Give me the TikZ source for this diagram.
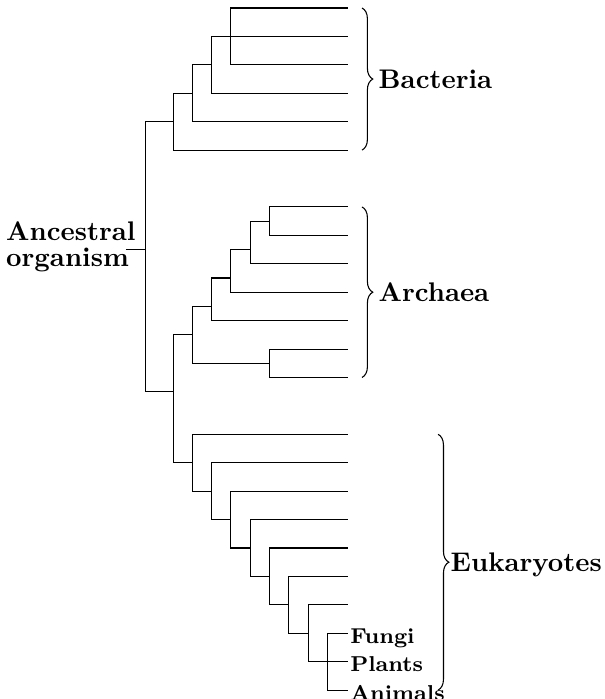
\documentclass[tikz,border=0pt]{standalone}
\usetikzlibrary{decorations.pathreplacing}

\begin{document}
\begin{tikzpicture}[x=0.252cm, y=-0.371cm,
  taxon/.style={anchor=west, inner sep=0.6pt, font=\footnotesize\bfseries, text height=7.4pt, text depth=0pt},
  group/.style={anchor=west, inner sep=1pt, font=\bfseries, text depth=0pt},
  clade/.style={decorate, decoration={brace, amplitude=4pt}}]
\useasboundingbox (-7.964,-0.2815) rectangle (23.331,24.314);
\def\xend{10.07}

% root of the tree
\coordinate (root) at (-0.45,8.5);
\coordinate (stub) at (-1.44,8.5);
\node[anchor=east, align=left, font=\bfseries, inner sep=0pt] (anc) at (-0.92,8.4) {Ancestral\\[-2.6pt]organism};
\draw (stub) -- (root);

% Bacteria
\begin{scope}
\coordinate (b1) at (1,4);
\coordinate (b2) at (2,3);
\coordinate (b3) at (3,2);
\coordinate (b4) at (4,1);
\foreach \i in {1,...,6} \coordinate (bac\i) at (\xend,\i-1);
\draw (b4) |- (bac1) (b4) -- (bac2) (b4) |- (bac3);
\draw (b3) |- (b4) (b3) |- (bac4);
\draw (b2) |- (b3) (b2) |- (bac5);
\draw (b1) |- (b2) (b1) |- (bac6);
\coordinate (btop) at (10.79,0);
\coordinate (bbot) at (10.79,5);
\draw[clade] (btop) -- (bbot) node[midway, group, right=5pt] (bact) {Bacteria};
\end{scope}

% Archaea
\begin{scope}[shift={(0,7)}]
\coordinate (a0) at (1,6.5);
\coordinate (a1) at (2,4.5);
\coordinate (a2) at (3,3.5);
\coordinate (a3) at (4,2.5);
\coordinate (a4) at (5,1.5);
\coordinate (a5) at (6,0.5);
\coordinate (a6) at (6,5.5);
\foreach \i in {1,...,7} \coordinate (arc\i) at (\xend,\i-1);
\draw (a5) |- (arc1) (a5) |- (arc2);
\draw (a4) |- (a5) (a4) |- (arc3);
\draw (a3) |- (a4) (a3) |- (arc4);
\draw (a2) |- (a3) (a2) |- (arc5);
\draw (a6) |- (arc6) (a6) |- (arc7);
\draw (a1) |- (a2) (a1) |- (a6);
\draw (a0) |- (a1);
\coordinate (atop) at (10.79,0);
\coordinate (abot) at (10.79,6);
\draw[clade] (atop) -- (abot) node[midway, group, right=5pt] (arch) {Archaea};
\end{scope}

% Eukaryotes
\begin{scope}[shift={(0,15)}]
\foreach \i in {1,...,8} \coordinate (e\i) at (\i+1,\i);
\foreach \i in {1,...,7} \coordinate (euk\i) at (\xend,\i-1);
\foreach \i [count=\j from 2] in {1,...,7} \draw (e\i) |- (e\j) (e\i) |- (euk\i);
\node[taxon] (fungi) at (\xend,7) {Fungi};
\node[taxon] (plants) at (\xend,8) {Plants};
\node[taxon] (animals) at (\xend,9) {Animals};
\draw (e8) |- (fungi) (e8) -- (plants) (e8) |- (animals);
\coordinate (etop) at (14.73,0);
\coordinate (ebot) at (14.73,9);
\draw[clade] (etop) -- (ebot) node[midway, group, right=3.5pt] (euka) {Eukaryotes};
\end{scope}

\draw (root) |- (b1) (root) |- (a0);
\draw (a0) |- (e1);
\end{tikzpicture}
\end{document}
